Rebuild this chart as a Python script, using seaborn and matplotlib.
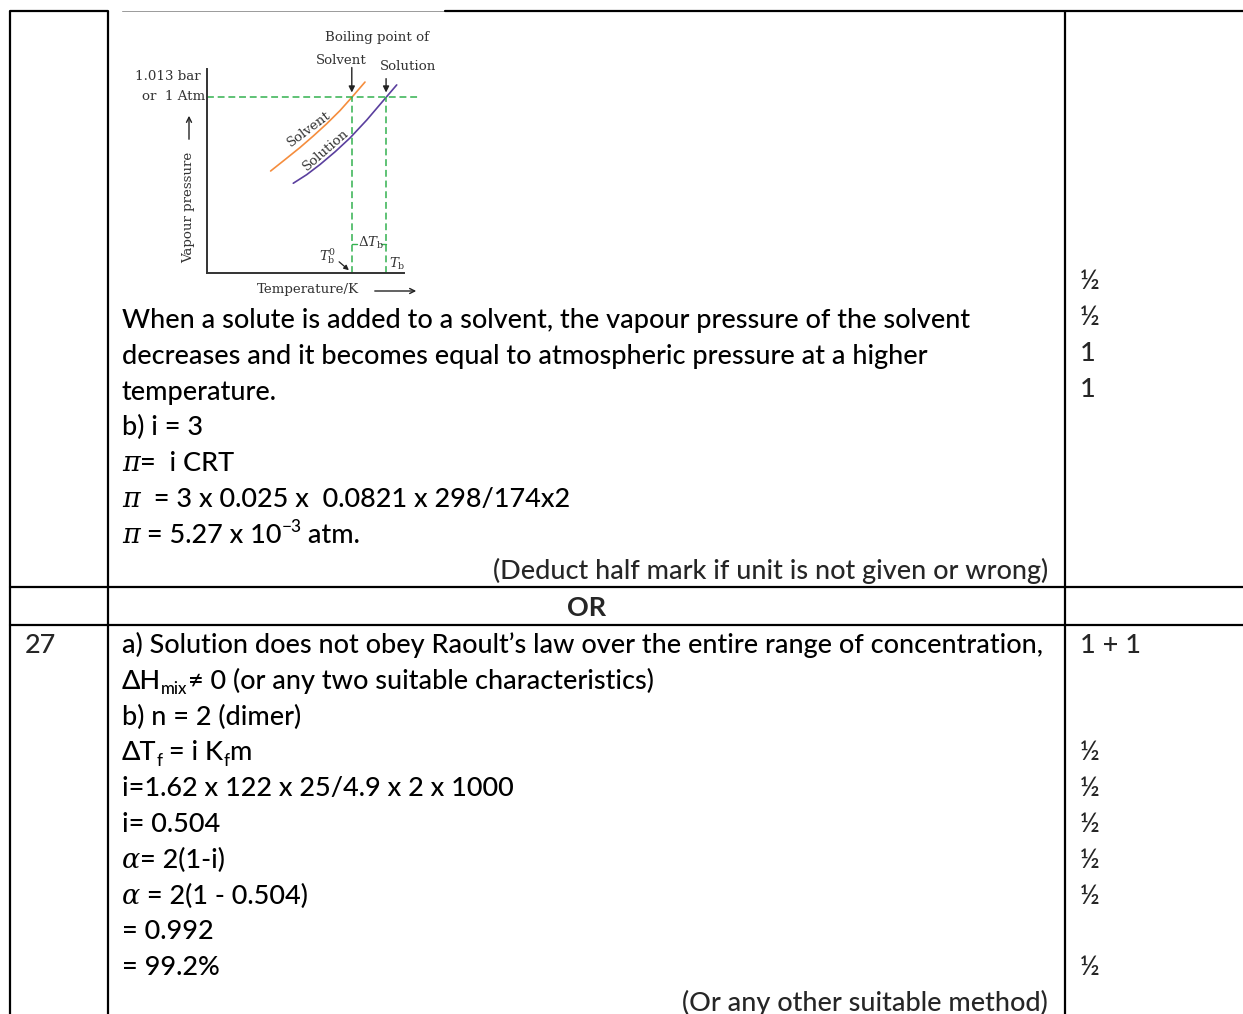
import matplotlib
matplotlib.use("Agg")
import matplotlib.pyplot as plt
import seaborn as sns
import pandas as pd

sns.set_style("white")
plt.rcParams["font.family"] = ["Lato", "DejaVu Sans"]
plt.rcParams["font.weight"] = 500
plt.rcParams["mathtext.fontset"] = "dejavuserif"

# vapour pressure curves (arbitrary T / p units)
solvent_T = [32.3, 39.6, 47.2, 54.0, 60.8, 67.5, 73.5, 80.2]
solvent_P = [50.0, 55.6, 61.5, 67.2, 73.2, 79.6, 86.1, 93.6]
solution_T = [43.8, 50.6, 57.4, 65.0, 72.6, 81.1, 90.9, 96.3]
solution_P = [44.0, 48.2, 53.2, 59.4, 66.2, 75.0, 86.1, 92.2]
p_atm = 86.1
tb_solvent = 73.5
tb_solution = 90.9

# answer key text, one list of (text, kind) runs per line
upper_lines = [
    [("When a solute is added to a solvent, the vapour pressure of the solvent", "n")],
    [("decreases and it becomes equal to atmospheric pressure at a higher", "n")],
    [("temperature.", "n")],
    [("b) i = 3", "n")],
    [("π", "it"), ("=  i CRT", "n")],
    [("π", "it"), ("  = 3 x 0.025 x  0.0821 x 298/174x2", "n")],
    [("π", "it"), (" = 5.27 x 10", "n"), ("−3", "sup"), (" atm.", "n")],
]
upper_note = "(Deduct half mark if unit is not given or wrong)"
upper_marks = ["½", "½", "1", "1"]
upper_mark_rows = [-1, 0, 1, 2]

lower_lines = [
    [("a) Solution does not obey Raoult’s law over the entire range of concentration,", "n")],
    [("ΔH", "n"), ("mix", "sub"), ("≠ 0 (or any two suitable characteristics)", "n")],
    [("b) n = 2 (dimer)", "n")],
    [("ΔT", "n"), ("f", "sub"), (" = i K", "n"), ("f", "sub"), ("m", "n")],
    [("i=1.62 x 122 x 25/4.9 x 2 x 1000", "n")],
    [("i= 0.504", "n")],
    [("α", "it"), ("= 2(1-i)", "n")],
    [("α", "it"), (" = 2(1 - 0.504)", "n")],
    [("= 0.992", "n")],
    [("= 99.2%", "n")],
]
lower_note = "(Or any other suitable method)"
lower_marks = ["1 + 1", "½", "½", "½", "½", "½", "½"]
lower_mark_rows = [0, 3, 4, 5, 6, 7, 9]

W, H = 1243, 1014
BODY = 19.45
STEP = 35.8
fig = plt.figure(figsize=(W / 100, H / 100), dpi=100)
ax = fig.add_axes([0, 0, 1, 1])
ax.set_xlim(0, W)
ax.set_ylim(H, 0)
ax.axis("off")
rend = fig.canvas.get_renderer()


def draw_runs(x, y, runs, size=BODY):
    px = size * 100 / 72
    for s, kind in runs:
        kw = dict(fontsize=size, va="baseline", ha="left", color="black")
        yy = y
        if kind == "sub":
            kw["fontsize"] = size * 0.62
            yy = y + px * 0.2
        elif kind == "sup":
            kw["fontsize"] = size * 0.64
            yy = y - px * 0.4
        elif kind == "it":
            kw["family"] = ["DejaVu Serif"]
            kw["style"] = "italic"
            kw["weight"] = "normal"
        t = ax.text(x, yy, s, **kw)
        x += t.get_window_extent(renderer=rend).width


# table rules
lw = 1.6
for xs, ys in [((10, 10), (11, H)), ((108, 108), (11, H)), ((1065, 1065), (11, H))]:
    ax.plot(xs, ys, color="black", lw=lw, solid_capstyle="butt")
ax.plot((10, 108), (11, 11), color="black", lw=lw)
ax.plot((122, 445), (11, 11), color="#9a9a9a", lw=0.7)
ax.plot((445, W), (11, 11), color="black", lw=lw)
ax.plot((10, W), (587, 587), color="black", lw=lw)
ax.plot((10, W), (625, 625), color="black", lw=lw)

base = 9
y0 = 319
for i, runs in enumerate(upper_lines):
    draw_runs(122, y0 + i * STEP + base, runs)
ax.text(1048, y0 + len(upper_lines) * STEP + base, upper_note, fontsize=BODY,
        ha="right", va="baseline")
for m, r in zip(upper_marks, upper_mark_rows):
    ax.text(1080, y0 + r * STEP + base - 3, m, fontsize=BODY, va="baseline")

ax.text(587, 607 + base, "OR", fontsize=BODY, fontweight="bold", ha="center", va="baseline")

y1 = 644
ax.text(25, y1 + base, "27", fontsize=BODY, va="baseline")
for i, runs in enumerate(lower_lines):
    draw_runs(122, y1 + i * STEP + base, runs)
ax.text(1048, 1002 + base, lower_note, fontsize=BODY, ha="right", va="baseline")
for m, r in zip(lower_marks, lower_mark_rows):
    ax.text(1080, y1 + r * STEP + base, m, fontsize=BODY, va="baseline")

# ---- boiling point elevation sketch ----
x0, x1, yt, yb = 207, 404, 69, 273
axd = fig.add_axes([x0 / W, 1 - yb / H, (x1 - x0) / W, (yb - yt) / H])
axd.set_facecolor("none")
axd.set_xlim(0, 100)
axd.set_ylim(0, 100)
axd.set_xticks([])
axd.set_yticks([])
for s in ["top", "right"]:
    axd.spines[s].set_visible(False)
for s in ["left", "bottom"]:
    axd.spines[s].set_color("#333333")
    axd.spines[s].set_linewidth(1.4)

curves = pd.concat([
    pd.DataFrame({"T": solvent_T, "p": solvent_P, "kind": "Solvent"}),
    pd.DataFrame({"T": solution_T, "p": solution_P, "kind": "Solution"}),
])
sns.lineplot(data=curves, x="T", y="p", hue="kind", sort=False, ax=axd,
             palette={"Solvent": "#f58d3d", "Solution": "#5a3f9e"}, lw=1.2,
             legend=False, clip_on=False)
axd.set_xlabel("")
axd.set_ylabel("")

green = "#33b24f"
dash = (0, (4.5, 2.5))
axd.plot([0, 107], [p_atm, p_atm], color=green, lw=1.1, ls=dash, clip_on=False)
for tb in (tb_solvent, tb_solution):
    axd.plot([tb, tb], [0, p_atm], color=green, lw=1.1, ls=dash, clip_on=False)
axd.annotate("", xy=(tb_solvent, p_atm + 1), xytext=(0, 22), textcoords="offset points",
             arrowprops=dict(arrowstyle="-|>", color="#222222", lw=1, mutation_scale=9))
axd.annotate("", xy=(tb_solution, p_atm + 1), xytext=(0, 14), textcoords="offset points",
             arrowprops=dict(arrowstyle="-|>", color="#222222", lw=1, mutation_scale=9))

gray = "#333333"
sk = dict(family=["DejaVu Serif"], fontsize=9.6, color=gray, weight="normal")
ax.text(377, 38, "Boiling point of", ha="center", va="center", **sk)
ax.text(341, 61, "Solvent", ha="center", va="center", **sk)
ax.text(408, 66, "Solution", ha="center", va="center", **sk)
ax.text(201, 77, "1.013 bar", ha="right", va="center", **sk)
ax.text(205, 96, "or  1 Atm", ha="right", va="center", **sk)
ax.text(189, 207, "Vapour pressure", ha="center", va="center", rotation=90, **sk)
ax.annotate("", xy=(189, 113), xytext=(189, 142),
            arrowprops=dict(arrowstyle="->", color="#222222", lw=1, mutation_scale=9))
ax.text(308, 290, "Temperature/K", ha="center", va="center", **sk)
ax.annotate("", xy=(419, 291), xytext=(372, 291),
            arrowprops=dict(arrowstyle="->", color="#222222", lw=1, mutation_scale=9))
ax.text(309, 129, "Solvent", ha="center", va="center", rotation=37,
        rotation_mode="anchor", **sk)
ax.text(326, 150, "Solution", ha="center", va="center", rotation=41,
        rotation_mode="anchor", **sk)
ax.text(371, 243, r"Δ$T_\mathrm{b}$", ha="center", va="center", **sk)
ax.plot((352, 357), (244, 244), color=green, lw=1)
ax.plot((381, 386), (244, 244), color=green, lw=1)
ax.text(328, 256, r"$T_\mathrm{b}^0$", ha="center", va="center", **sk)
ax.annotate("", xy=(351, 272), xytext=(337, 260),
            arrowprops=dict(arrowstyle="-|>", color="#222222", lw=0.9, mutation_scale=7))
ax.text(397, 264, r"$T_\mathrm{b}$", ha="center", va="center", **sk)

fig.savefig("out.png", dpi=100)
